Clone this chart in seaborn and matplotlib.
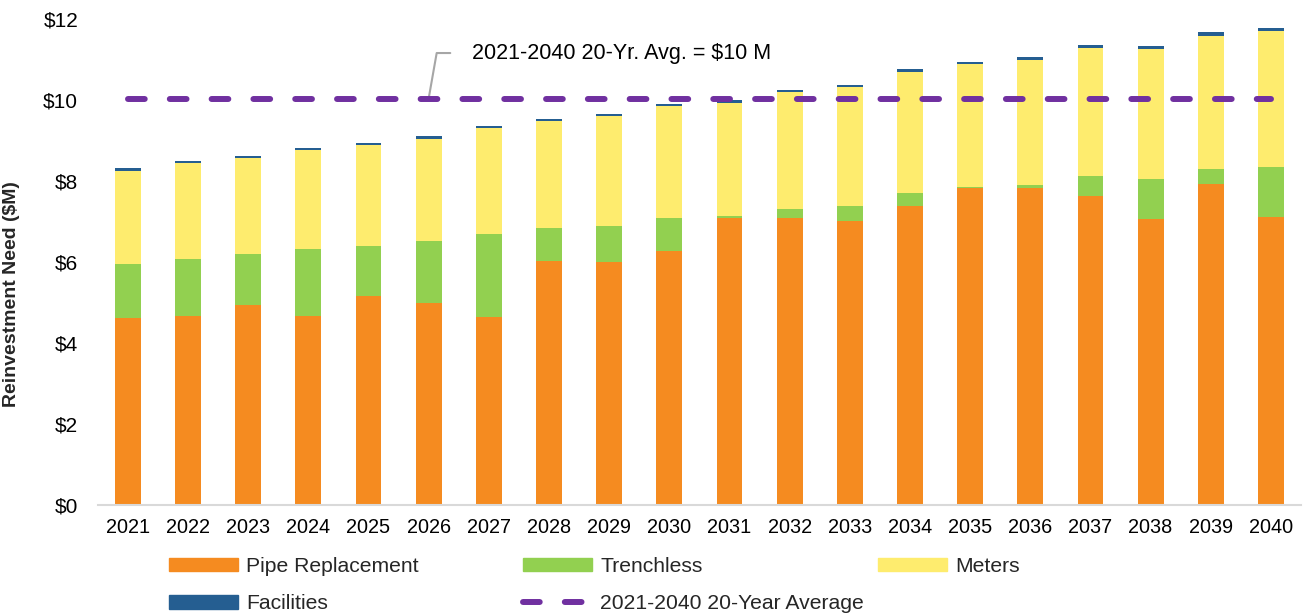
import matplotlib.pyplot as plt
import matplotlib as mpl
from matplotlib.patches import Patch
from matplotlib.lines import Line2D
import numpy as np
import pandas as pd
import seaborn as sns

years = [str(y) for y in range(2021, 2041)]
pipe = [4.61, 4.67, 4.94, 4.68, 5.16, 4.99, 4.64, 6.02, 6.00, 6.27,
        7.09, 7.09, 7.01, 7.39, 7.84, 7.82, 7.63, 7.07, 7.93, 7.12]
trenchless = [1.35, 1.40, 1.25, 1.64, 1.24, 1.52, 2.06, 0.81, 0.90, 0.82,
              0.05, 0.23, 0.37, 0.32, 0.01, 0.09, 0.49, 0.98, 0.37, 1.23]
meters = [2.30, 2.37, 2.39, 2.45, 2.49, 2.54, 2.61, 2.64, 2.70, 2.76,
          2.79, 2.87, 2.93, 2.99, 3.04, 3.09, 3.16, 3.21, 3.29, 3.35]
facilities = [0.05, 0.05, 0.05, 0.05, 0.05, 0.06, 0.06, 0.07, 0.05, 0.06,
              0.06, 0.06, 0.06, 0.06, 0.06, 0.07, 0.07, 0.07, 0.08, 0.07]
avg_20yr = 10.03

colors = {'Pipe Replacement': '#F58B20', 'Trenchless': '#92D050',
          'Meters': '#FEEC6E', 'Facilities': '#255E91'}
avg_color = '#7030A0'

sns.set_style('white')
plt.rcParams['font.family'] = ['Liberation Sans', 'DejaVu Sans']

df = pd.DataFrame({'Year': years, 'Pipe Replacement': pipe, 'Trenchless': trenchless,
                   'Meters': meters, 'Facilities': facilities})
# cumulative tops so bars can be overlaid from tallest to shortest
cum = df[['Pipe Replacement', 'Trenchless', 'Meters', 'Facilities']].cumsum(axis=1)

fig = plt.figure(figsize=(13.06, 6.13), dpi=100)
ax = fig.add_axes([0.0748, 0.176, 0.9214, 0.793])

for col in ['Facilities', 'Meters', 'Trenchless', 'Pipe Replacement']:
    sns.barplot(x=df['Year'], y=cum[col], color=colors[col], width=0.43,
                saturation=1, linewidth=0, edgecolor='none', ax=ax)

xs = np.arange(len(years))
ax.plot(xs, [avg_20yr] * len(xs), color=avg_color, lw=4.3,
        linestyle=(0, (2.8, 4.2)), dash_capstyle='round', zorder=5)

ax.annotate('', xy=(5, avg_20yr), xytext=(5.36, 11.16),
            arrowprops=dict(arrowstyle='-', color='#A6A6A6', lw=1.5,
                            shrinkA=0, shrinkB=0,
                            connectionstyle='angle,angleA=0,angleB=80'))
ax.text(5.72, 11.16, '2021-2040 20-Yr. Avg. = $10 M', fontsize=15.5,
        va='center', ha='left', color='#000000')

ax.set_xlim(-0.5, len(years) - 0.5)
ax.set_ylim(0, 12)
ax.set_yticks(range(0, 13, 2))
ax.set_yticklabels([f'${v}' for v in range(0, 13, 2)])
ax.set_xlabel('')
ax.set_ylabel('Reinvestment Need ($M)', fontsize=14, fontweight='bold')
ax.yaxis.set_label_coords(-0.0646, 0.434)
ax.tick_params(axis='y', length=0, pad=14, labelsize=15, labelcolor='#000000')
ax.tick_params(axis='x', length=0, pad=9, labelsize=14.3, labelcolor='#000000')
for s in ['top', 'right', 'left']:
    ax.spines[s].set_visible(False)
ax.spines['bottom'].set_color('#D9D9D9')
ax.spines['bottom'].set_linewidth(1.5)

leg_kw = dict(frameon=False, fontsize=15.2, handlelength=3.27, handleheight=0.62,
              handletextpad=0.38, labelspacing=0.86, borderpad=0, borderaxespad=0,
              loc='upper left')
col1 = [Patch(color=colors['Pipe Replacement']), Patch(color=colors['Facilities'])]
col2 = [Patch(color=colors['Trenchless']),
        Line2D([], [], color=avg_color, lw=4.3, linestyle=(0, (2.8, 4.2)),
               dash_capstyle='round')]
col3 = [Patch(color=colors['Meters'])]
top = 1 - 557 / 613
fig.legend(col1, ['Pipe Replacement', 'Facilities'], bbox_to_anchor=(169 / 1306, top), **leg_kw)
fig.legend(col2, ['Trenchless', '2021-2040 20-Year Average'], bbox_to_anchor=(523 / 1306, top), **leg_kw)
fig.legend(col3, ['Meters'], bbox_to_anchor=(878 / 1306, top), **leg_kw)

plt.savefig('out.png', dpi=100)
